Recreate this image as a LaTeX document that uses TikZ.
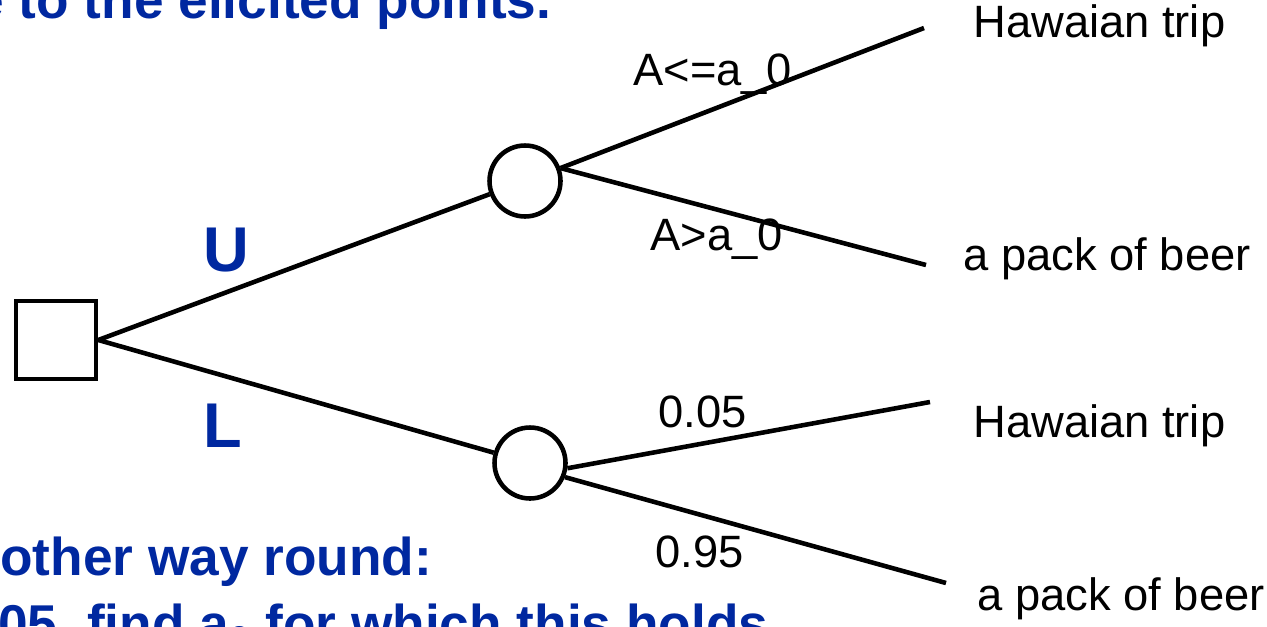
\documentclass[tikz,border=0pt]{standalone}
\usepackage{fontspec}
\setmainfont{Liberation Sans}
\definecolor{slideblue}{RGB}{0,40,160}
\begin{document}
\begin{tikzpicture}[x=0.02cm, y=-0.02cm,
  decision/.style={draw, line width=2.6pt, minimum width=1.6cm, minimum height=1.56cm, inner sep=0pt},
  chance/.style={draw, circle, line width=2.6pt, minimum size=1.42cm, inner sep=0pt},
  branch/.style={line width=2.6pt},
  lbl/.style={font=\fontsize{25.8}{30}\selectfont, inner sep=0pt, anchor=base west},
  slide/.style={font=\fontsize{30.3}{36}\selectfont\bfseries, text=slideblue, inner sep=0pt, anchor=base west},
  act/.style={font=\fontsize{36}{42}\selectfont\bfseries, text=slideblue, inner sep=0pt, anchor=base west}]
  \useasboundingbox (0,0) rectangle (1267,626);
  \clip (0,0) rectangle (1267,626);

  % slide text around the tree
  \node[slide] (head) at (-26,18) {e to the elicited points.};
  \node[slide] (way) at (0,575) {other way round:};
  \node[slide] (find) at (-2,642) {05, find a\textsubscript{0} for which this holds};

  % decision and chance nodes
  \node[decision] (sq) at (56,340) {};
  \node[chance] (c1) at (525,181) {};
  \node[chance] (c2) at (530,463) {};

  \coordinate (e1) at (924,28);
  \coordinate (e2) at (926,265);
  \coordinate (e3) at (930,402);
  \coordinate (e4) at (946,583);

  \draw[branch] (sq.east) -- (c1);
  \draw[branch] (sq.east) -- (c2);
  \draw[branch] (c1.20) -- (e1);
  \draw[branch] (c1.20) -- (e2);
  \draw[branch] (c2.-8) -- (e3);
  \draw[branch] (c2.-22) -- (e4);

  % branch labels
  \node[act] (u) at (203,271) {U};
  \node[act] (l) at (203,447) {L};
  \node[lbl] (p1) at (633,85) {A<=a\_0};
  \node[lbl] (p2) at (650,250) {A>a\_0};
  \node[lbl] (p3) at (658,427) {0.05};
  \node[lbl] (p4) at (655,567) {0.95};

  % outcomes
  \node[lbl] (o1) at (973,37) {Hawaian trip};
  \node[lbl] (o2) at (963,270) {a pack of beer};
  \node[lbl] (o3) at (973,437) {Hawaian trip};
  \node[lbl] (o4) at (977,610) {a pack of beer};
\end{tikzpicture}
\end{document}
